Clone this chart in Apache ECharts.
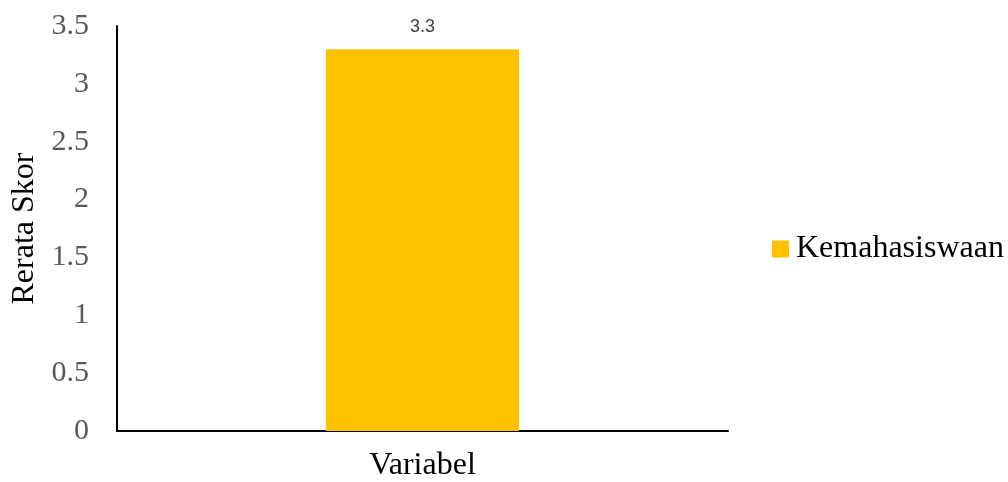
<!DOCTYPE html>
<html>
<head>
<meta charset="utf-8">
<script src="https://cdn.jsdelivr.net/npm/echarts@6/dist/echarts.min.js"></script>
<style>
  html, body { margin: 0; padding: 0; background: #fff; }
  #chart { width: 1008px; height: 482px; }
</style>
</head>
<body>
<div id="chart"></div>
<script>
// Mean score per variable
const categories = ['Variabel'];
const seriesName = 'Kemahasiswaan';
const meanScores = [3.3];
const yTicks = [0, 0.5, 1, 1.5, 2, 2.5, 3, 3.5];

const chart = echarts.init(document.getElementById('chart'));
const serif = '"Liberation Serif", "Times New Roman", serif';

chart.setOption({
  animation: false,
  grid: { left: 117, right: 280, top: 26, bottom: 50, containLabel: false },
  legend: {
    orient: 'vertical',
    left: 772,
    top: 233,
    padding: 0,
    itemWidth: 17,
    itemHeight: 17,
    itemGap: 7,
    icon: 'rect',
    textStyle: { fontFamily: serif, fontSize: 32, color: '#000', padding: [0, 0, 0, 2] },
    data: [seriesName]
  },
  xAxis: {
    type: 'category',
    data: categories,
    axisLine: { lineStyle: { color: '#000', width: 2 } },
    axisTick: { show: false },
    axisLabel: { fontFamily: serif, fontSize: 32, color: '#000', margin: 19 }
  },
  yAxis: {
    type: 'value',
    min: yTicks[0],
    max: yTicks[yTicks.length - 1],
    interval: 0.5,
    name: 'Rerata Skor',
    nameLocation: 'middle',
    nameGap: 76,
    nameRotate: 90,
    nameTextStyle: { fontFamily: serif, fontSize: 32, color: '#000' },
    axisLine: { show: true, lineStyle: { color: '#000', width: 2 } },
    axisTick: { show: false },
    splitLine: { show: false },
    axisLabel: {
      fontFamily: serif, fontSize: 30, color: '#595959', margin: 28,
      formatter: v => String(v)
    }
  },
  series: [{
    name: seriesName,
    type: 'bar',
    data: meanScores,
    barWidth: '31.6%',
    itemStyle: { color: '#FFC000' },
    label: {
      show: true,
      position: 'top',
      distance: 13,
      fontFamily: '"Liberation Sans", Arial, sans-serif',
      fontSize: 18,
      color: '#404040'
    }
  }]
});
</script>
</body>
</html>
